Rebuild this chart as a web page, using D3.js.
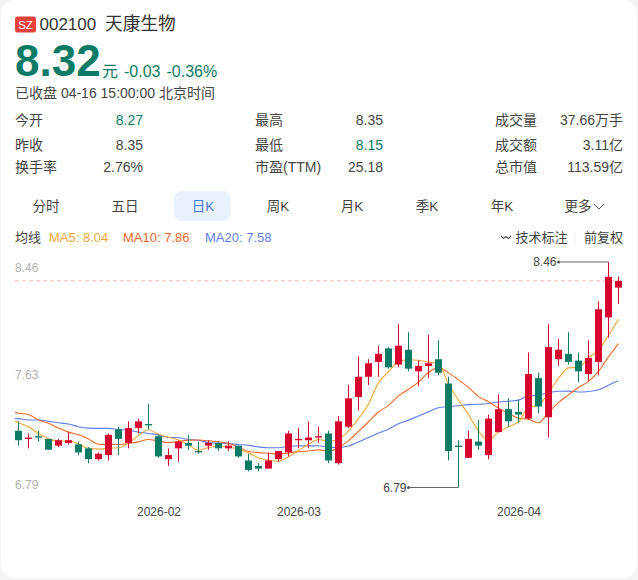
<!DOCTYPE html>
<html>
<head>
<meta charset="utf-8">
<script src="https://cdn.jsdelivr.net/npm/d3@7"></script>
<style>
  html, body { margin: 0; padding: 0; background: #f4f4f4; overflow: hidden; }
  svg { display: block; font-family: "Liberation Sans", "Noto Sans CJK SC", sans-serif; }
</style>
</head>
<body>
<svg id="chart" width="638" height="580"></svg>
<script>
// daily candles
const opens = [7.21,7.15,7.17,7.15,7.10,7.12,7.11,7.08,7.00,7.03,7.22,7.12,7.23,7.26,7.17,7.00,7.08,7.12,7.06,7.10,7.12,7.08,7.10,6.99,6.95,6.93,7.00,7.05,7.14,7.14,7.16,7.19,6.97,7.24,7.46,7.61,7.72,7.82,7.70,7.81,7.65,7.69,7.74,7.56,7.10,7.01,7.13,7.03,7.20,7.37,7.35,7.30,7.60,7.31,7.74,7.78,7.73,7.63,7.72,8.05,8.27];
const highs = [7.28,7.19,7.21,7.15,7.15,7.20,7.13,7.09,7.05,7.19,7.24,7.28,7.30,7.41,7.18,7.08,7.14,7.18,7.13,7.14,7.13,7.13,7.10,7.04,6.97,7.05,7.06,7.21,7.23,7.28,7.24,7.21,7.32,7.55,7.76,7.74,7.84,7.83,8.00,7.94,7.73,7.92,7.88,7.61,7.14,7.21,7.29,7.33,7.48,7.45,7.44,7.79,7.64,8.00,7.89,7.94,7.79,7.88,8.17,8.46,8.35];
const lows = [7.10,7.08,7.13,7.07,7.09,7.11,7.03,6.97,6.99,6.99,7.03,7.08,7.19,7.22,7.01,6.95,6.98,7.07,7.04,7.07,7.06,7.06,7.01,6.91,6.91,6.93,6.98,7.02,7.08,7.08,7.12,6.97,6.96,7.23,7.36,7.55,7.61,7.67,7.68,7.65,7.54,7.60,7.62,6.99,6.79,7.01,7.07,7.00,7.20,7.24,7.27,7.29,7.34,7.16,7.69,7.70,7.57,7.58,7.62,7.90,8.15];
const closes = [7.14,7.16,7.16,7.07,7.14,7.14,7.05,7.00,7.04,7.18,7.15,7.23,7.28,7.25,7.02,7.03,7.13,7.10,7.05,7.12,7.08,7.10,7.02,6.92,6.93,6.99,7.06,7.19,7.15,7.16,7.17,6.99,7.28,7.45,7.61,7.71,7.78,7.68,7.84,7.67,7.69,7.71,7.64,7.06,7.09,7.15,7.10,7.30,7.37,7.28,7.33,7.63,7.39,7.83,7.81,7.72,7.65,7.75,8.11,8.35,8.32];

// moving averages start one day before the first candle, that point is clipped
const ma5 = [7.31,7.27,7.24,7.19,7.15,7.134,7.134,7.112,7.080,7.074,7.082,7.084,7.120,7.176,7.218,7.186,7.162,7.142,7.106,7.066,7.086,7.096,7.090,7.074,7.048,7.010,6.992,6.984,7.018,7.064,7.110,7.146,7.132,7.150,7.210,7.300,7.408,7.566,7.646,7.724,7.736,7.732,7.718,7.710,7.554,7.438,7.330,7.208,7.140,7.202,7.240,7.276,7.382,7.400,7.492,7.598,7.676,7.680,7.752,7.808,7.916,8.036];
const ma10 = [7.36,7.34,7.33,7.29,7.265,7.23,7.20,7.18,7.15,7.11,7.108,7.109,7.116,7.128,7.146,7.134,7.123,7.131,7.141,7.142,7.136,7.129,7.116,7.090,7.057,7.048,7.044,7.037,7.046,7.056,7.060,7.069,7.058,7.084,7.137,7.205,7.277,7.349,7.398,7.467,7.518,7.570,7.642,7.678,7.639,7.587,7.531,7.463,7.425,7.378,7.339,7.303,7.295,7.270,7.347,7.419,7.476,7.531,7.576,7.650,7.757,7.856];
const ma20 = [7.304,7.30,7.29,7.29,7.28,7.27,7.26,7.24,7.23,7.228,7.228,7.22,7.215,7.20,7.19,7.18,7.16,7.158,7.146,7.14,7.122,7.119,7.116,7.109,7.102,7.091,7.084,7.084,7.094,7.099,7.098,7.099,7.087,7.087,7.097,7.127,7.161,7.193,7.222,7.262,7.289,7.320,7.350,7.381,7.388,7.396,7.404,7.406,7.412,7.423,7.429,7.437,7.469,7.474,7.493,7.503,7.504,7.497,7.501,7.514,7.548,7.580];

const monthTicks = [14, 28, 50];
const monthLabels = ["2026-02", "2026-03", "2026-04"];
const priceTicks = [8.46, 7.63, 6.79];
const lastClose = 8.32;
const tabs = ["分时", "五日", "日K", "周K", "月K", "季K", "年K", "更多"];
const tabCenters = [46, 125, 203, 278, 352, 427, 502, 578];
const statRows = [
  [["今开", "8.27", "#0b7b66"], ["最高", "8.35", "#444"], ["成交量", "37.66万手", "#444"]],
  [["昨收", "8.35", "#444"], ["最低", "8.15", "#0b7b66"], ["成交额", "3.11亿", "#444"]],
  [["换手率", "2.76%", "#444"], ["市盈(TTM)", "25.18", "#444"], ["总市值", "113.59亿", "#444"]]
];

const red = "#d7022e", green = "#0b7b66";
const svg = d3.select("#chart");

const text = (x, y, s, size, fill, anchor) => svg.append("text")
  .attr("x", x).attr("y", y).attr("font-size", size).attr("fill", fill)
  .attr("text-anchor", anchor || "start").text(s);

svg.append("rect").attr("x", 1).attr("y", 0).attr("width", 636).attr("height", 578)
  .attr("rx", 14).attr("fill", "#fff");

// header
svg.append("rect").attr("x", 15).attr("y", 16.5).attr("width", 21).attr("height", 16)
  .attr("rx", 2.5).attr("fill", "#e5403c");
text(25.5, 29, "SZ", 11.5, "#fff", "middle");
text(39.5, 30, "002100", 17, "#333");
text(105, 30, "天康生物", 17.7, "#333");
text(15, 76, "8.32", 44, green).attr("font-weight", "bold");
text(102, 77, "元", 16, green);
text(124, 77, "-0.03", 16, green);
text(166.5, 77, "-0.36%", 16, green);
text(15, 98, "已收盘 04-16 15:00:00 北京时间", 14, "#444");

// quote table
const rowY = [125, 149.5, 172];
const labelX = [15, 255, 495], valueX = [143, 383, 623];
statRows.forEach((row, r) => row.forEach((cell, c) => {
  text(labelX[c], rowY[r], cell[0], 14, "#444");
  text(valueX[c], rowY[r], cell[1], 14, cell[2], "end");
}));

// period tabs
svg.append("rect").attr("x", 174).attr("y", 191).attr("width", 56.5).attr("height", 30)
  .attr("rx", 8).attr("fill", "#e8f1fc");
tabs.forEach((t, i) => text(tabCenters[i], 211, t, 13.5, i === 2 ? "#4a78d8" : "#444", "middle"));
svg.append("path").attr("d", "M594 204l5 5l5-5").attr("fill", "none")
  .attr("stroke", "#555").attr("stroke-width", 1);

// moving average legend
text(15, 242, "均线", 13, "#444");
text(49, 242, "MA5: 8.04", 13, "#f5a83a");
text(123, 242, "MA10: 7.86", 13, "#ef6a2d");
text(205, 242, "MA20: 7.58", 13, "#5f7fe8");
svg.append("path").attr("d", "M501 236l2.5 2.5l2.5-2l2.5 2l2.5-2.5").attr("fill", "none")
  .attr("stroke", "#555").attr("stroke-width", 1.1);
text(515.5, 242, "技术标注", 13, "#444");
svg.append("line").attr("x1", 575).attr("x2", 575).attr("y1", 232).attr("y2", 244)
  .attr("stroke", "#f0f0f0");
text(623, 242, "前复权", 13, "#444", "end");

// chart
const x = d3.scaleLinear([0, 60], [18.5, 618.5]);
const y = d3.scaleLinear([6.79, 8.46], [487.5, 262]);

svg.append("clipPath").attr("id", "plot").append("rect")
  .attr("x", 15).attr("y", 250).attr("width", 608).attr("height", 250);

const yAxis = svg.append("g").attr("transform", "translate(15,0)")
  .call(d3.axisRight(y).tickValues(priceTicks).tickSize(0).tickPadding(0).tickFormat(d3.format(".2f")));
yAxis.select(".domain").remove();
yAxis.selectAll("text").attr("font-size", 12).attr("font-family", null).attr("fill", "#b0b0b0")
  .attr("dy", d => d === 8.46 ? "0.83em" : d === 6.79 ? "0.12em" : "0.35em");

const xAxis = svg.append("g").attr("transform", "translate(0,516)")
  .call(d3.axisBottom(x).tickValues(monthTicks).tickSize(0).tickPadding(0)
    .tickFormat((d, i) => monthLabels[i]));
xAxis.select(".domain").remove();
xAxis.selectAll("text").attr("font-size", 12).attr("font-family", null).attr("fill", "#444")
  .attr("y", 0).attr("dy", 0);

svg.append("line").attr("x1", 15).attr("x2", 623)
  .attr("y1", y(lastClose)).attr("y2", y(lastClose))
  .attr("stroke", "#f2b4b4").attr("stroke-dasharray", "4,3");

const line = d3.line().x((d, i) => x(i - 1)).y(d => y(d)).curve(d3.curveMonotoneX);
const lines = svg.append("g").attr("clip-path", "url(#plot)").attr("fill", "none").attr("stroke-width", 1.1);
lines.append("path").attr("d", line(ma20)).attr("stroke", "#5f7fe8");
lines.append("path").attr("d", line(ma10)).attr("stroke", "#ef6a2d");
lines.append("path").attr("d", line(ma5)).attr("stroke", "#f5a83a");

const candle = svg.append("g").selectAll("g").data(d3.range(closes.length)).join("g")
  .attr("fill", i => closes[i] >= opens[i] ? red : green)
  .attr("stroke", i => closes[i] >= opens[i] ? red : green);
candle.append("line")
  .attr("x1", i => x(i)).attr("x2", i => x(i))
  .attr("y1", i => y(highs[i])).attr("y2", i => y(lows[i]));
candle.append("rect")
  .attr("x", i => x(i) - 3.5).attr("width", 7).attr("stroke", "none")
  .attr("y", i => y(Math.max(opens[i], closes[i])))
  .attr("height", i => Math.max(1.2, Math.abs(y(opens[i]) - y(closes[i]))));

// high and low call-outs
[highs.indexOf(d3.max(highs)), lows.indexOf(d3.min(lows))].forEach((i, k) => {
  const v = k === 0 ? highs[i] : lows[i];
  const xEnd = x(i) - 50;
  svg.append("line").attr("x1", xEnd).attr("x2", x(i)).attr("y1", y(v)).attr("y2", y(v)).attr("stroke", "#666");
  svg.append("circle").attr("cx", xEnd).attr("cy", y(v)).attr("r", 1.5).attr("fill", "#555");
  text(xEnd - 2, y(v) + 4.2, v.toFixed(2), 12, "#444", "end");
});
</script>
</body>
</html>
